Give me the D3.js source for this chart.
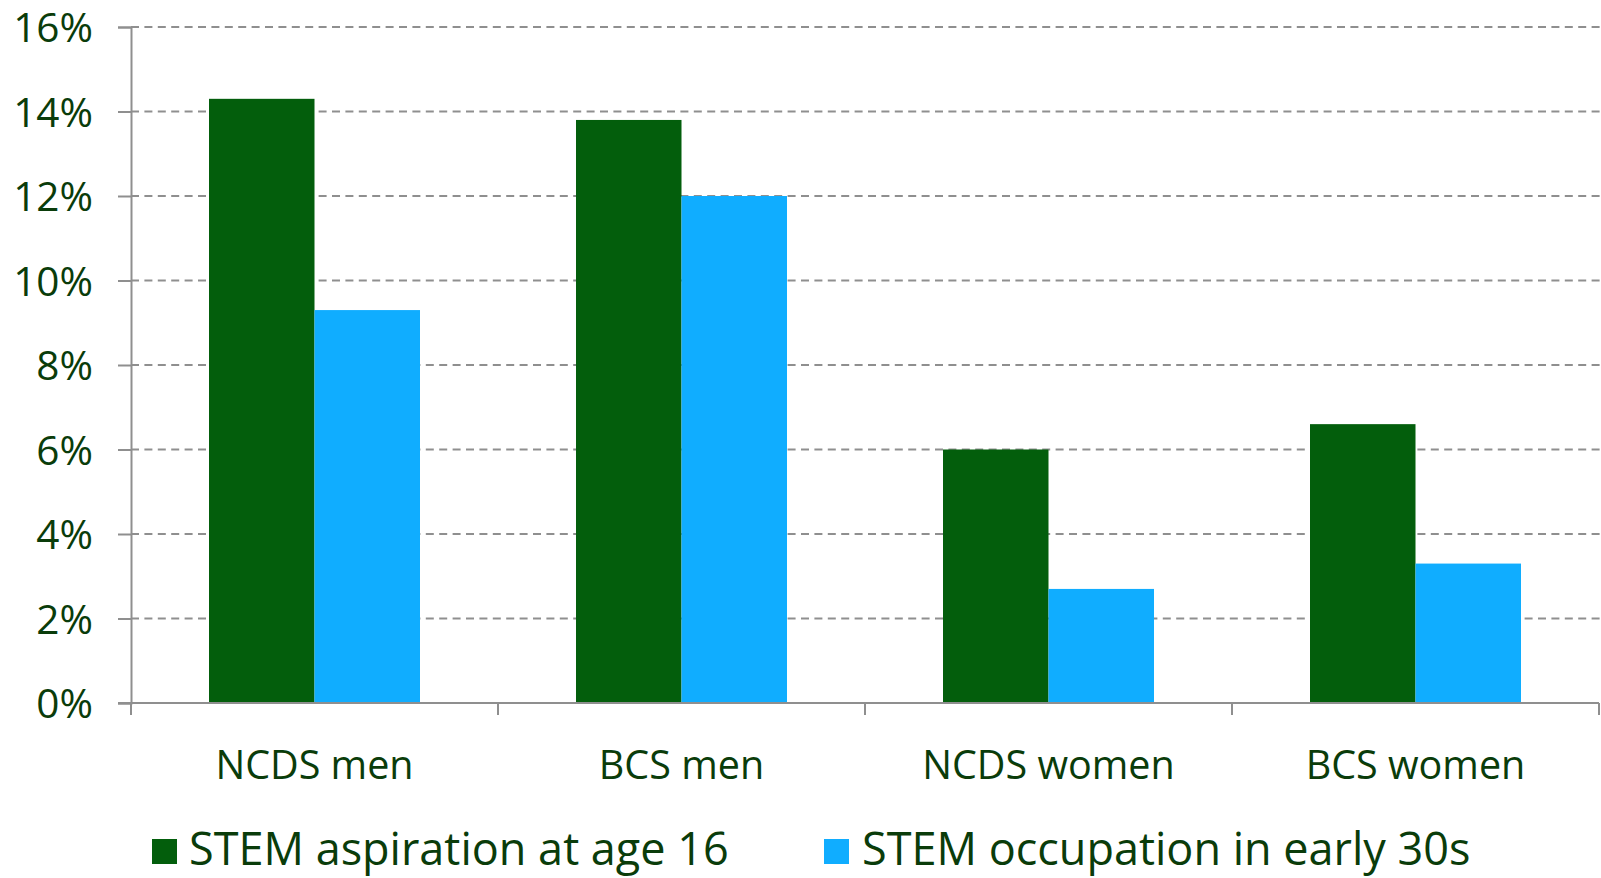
<!DOCTYPE html>
<html>
<head>
<meta charset="utf-8">
<script src="https://cdn.jsdelivr.net/npm/d3@7"></script>
<style>
  html, body { margin: 0; padding: 0; background: #fff; }
  svg { display: block; }
  text { font-family: "Open Sans", "Noto Sans", sans-serif; fill: #0a3c0a; }
</style>
</head>
<body>
<svg id="chart" width="1601" height="878"></svg>
<script>
const categories = ["NCDS men", "BCS men", "NCDS women", "BCS women"];
const seriesNames = ["STEM aspiration at age 16", "STEM occupation in early 30s"];
const aspiration = [0.143, 0.138, 0.060, 0.066];
const occupation = [0.093, 0.120, 0.027, 0.033];
const yTicks = [0, 0.02, 0.04, 0.06, 0.08, 0.10, 0.12, 0.14, 0.16];
const colors = ["#035e0c", "#10adff"];

(function () {
const svg = d3.select("#chart");
const mLeft = 131, mRight = 1599, mTop = 27, mBottom = 703;

const x = d3.scaleBand().domain(categories).range([mLeft, mRight]).padding(0);
const x1 = d3.scaleBand().domain(seriesNames).range([78, x.bandwidth() - 78]).padding(0);
const y = d3.scaleLinear().domain([0, 0.16]).range([mBottom, mTop]);

const axisColor = "#8f8f8f";

// gridlines
svg.append("g").selectAll("line").data(yTicks.filter(d => d > 0)).join("line")
  .attr("x1", mLeft).attr("x2", 1601)
  .attr("y1", d => y(d)).attr("y2", d => y(d))
  .attr("stroke", axisColor).attr("stroke-width", 2)
  .attr("stroke-dasharray", "8,5.4");

// y axis
const yAxis = svg.append("g").attr("transform", `translate(${mLeft},0)`)
  .call(d3.axisLeft(y).tickValues(yTicks).tickFormat(d3.format(".0%")).tickSize(13).tickPadding(25));
yAxis.select(".domain").attr("stroke", axisColor).attr("stroke-width", 2);
yAxis.selectAll(".tick line").attr("stroke", axisColor).attr("stroke-width", 2);
yAxis.selectAll(".tick text").attr("font-size", 40.5).attr("fill", "#0a3c0a")
  .attr("font-family", "'Open Sans', sans-serif").attr("dy", "0.36em");

// bars
const data = categories.map((c, i) => ({ cat: c, vals: [aspiration[i], occupation[i]] }));
const groups = svg.append("g").selectAll("g").data(data).join("g")
  .attr("transform", d => `translate(${x(d.cat)},0)`);
groups.selectAll("rect").data(d => d.vals.map((v, j) => ({ name: seriesNames[j], v, j }))).join("rect")
  .attr("x", d => x1(d.name))
  .attr("width", x1.bandwidth())
  .attr("y", d => y(d.v))
  .attr("height", d => y(0) - y(d.v))
  .attr("fill", d => colors[d.j]);

// x axis
const boundaries = categories.map(c => x(c)).concat([mRight]);
svg.append("line").attr("x1", mLeft - 13).attr("x2", mRight).attr("y1", mBottom).attr("y2", mBottom)
  .attr("stroke", axisColor).attr("stroke-width", 2);
svg.append("g").selectAll("line").data(boundaries).join("line")
  .attr("x1", d => d).attr("x2", d => d).attr("y1", mBottom).attr("y2", mBottom + 12)
  .attr("stroke", axisColor).attr("stroke-width", 2);
svg.append("g").selectAll("text").data(categories).join("text")
  .attr("x", d => x(d) + x.bandwidth() / 2).attr("y", 779)
  .attr("text-anchor", "middle").attr("font-size", 39.5).text(d => d);

// legend
const legendPos = [{ sq: 152, tx: 189 }, { sq: 824, tx: 862 }];
const lg = svg.append("g").selectAll("g").data(seriesNames).join("g");
lg.append("rect").attr("x", (d, i) => legendPos[i].sq).attr("y", 839)
  .attr("width", 25).attr("height", 25).attr("fill", (d, i) => colors[i]);
lg.append("text").attr("x", (d, i) => legendPos[i].tx).attr("y", 865)
  .attr("font-size", 45).text(d => d);
})();
</script>
</body>
</html>
